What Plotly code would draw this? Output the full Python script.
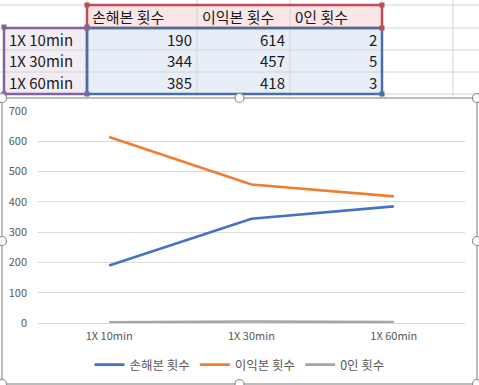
import plotly.graph_objects as go

# ---- data ----
categories = ["1X 10min", "1X 30min", "1X 60min"]
series_names = ["손해본 횟수", "이익본 횟수", "0인 횟수"]
loss_counts = [190, 344, 385]
profit_counts = [614, 457, 418]
zero_counts = [2, 5, 3]
y_ticks = [0, 100, 200, 300, 400, 500, 600, 700]

W, H = 479, 385
FONT = "Noto Sans CJK KR, Noto Sans, sans-serif"


def px(x):
    return x / W


def py(y):
    return 1 - y / H


fig = go.Figure()

# ---- line chart ----
colors = ["#4472c4", "#ed7d31", "#a5a5a5"]
for name, vals, col in zip(series_names, [loss_counts, profit_counts, zero_counts], colors):
    fig.add_trace(go.Scatter(
        x=categories, y=vals, name=name, mode="lines",
        line=dict(color=col, width=2.6), hoverinfo="skip",
    ))

shapes = []
annotations = []

# ---- spreadsheet cells ----
col_edges = [4, 87, 197, 290, 382]
row_edges = [5, 28, 50, 72, 94]
header_fill = "#fbe6e7"
data_fill = "#e8eef8"
label_fill = "#f2ecf4"


def rect(x0, y0, x1, y1, fill, line_color=None, width=0, layer="below"):
    shapes.append(dict(type="rect", xref="paper", yref="paper", x0=px(x0), x1=px(x1), y0=py(y1), y1=py(y0),
                       line=dict(color=line_color or fill, width=width), fillcolor=fill, layer=layer))


# fills
rect(col_edges[1], row_edges[0], col_edges[4], row_edges[1], header_fill)
rect(col_edges[0], row_edges[1], col_edges[1], row_edges[4], label_fill)
rect(col_edges[1], row_edges[1], col_edges[4], row_edges[4], data_fill)

# excel gridlines
for yy in row_edges:
    shapes.append(dict(type="line", xref="paper", yref="paper", x0=0, x1=1, y0=py(yy), y1=py(yy),
                       line=dict(color="#d4d4d4", width=1), layer="below"))
for xx in [87, 197, 290, 382, 453]:
    shapes.append(dict(type="line", xref="paper", yref="paper", x0=px(xx), x1=px(xx), y0=py(0), y1=py(97),
                       line=dict(color="#d4d4d4", width=1), layer="below"))

# cell text
for j, name in enumerate(series_names):
    annotations.append(dict(text=name, xref="paper", yref="paper", x=px(col_edges[j + 1] + 3),
                            y=py((row_edges[0] + row_edges[1]) / 2), xanchor="left", yanchor="middle",
                            showarrow=False, font=dict(family=FONT, size=15, color="#1a1a1a")))
for i, cat in enumerate(categories):
    yc = py((row_edges[i + 1] + row_edges[i + 2]) / 2)
    annotations.append(dict(text=cat, xref="paper", yref="paper", x=px(col_edges[0] + 3), y=yc,
                            xanchor="left", yanchor="middle", showarrow=False,
                            font=dict(family=FONT, size=15, color="#1a1a1a")))
    for j, vals in enumerate([loss_counts, profit_counts, zero_counts]):
        annotations.append(dict(text=str(vals[i]), xref="paper", yref="paper", x=px(col_edges[j + 2] - 3),
                                y=yc, xanchor="right", yanchor="middle", showarrow=False,
                                font=dict(family=FONT, size=15, color="#1a1a1a")))


# selection boxes
def box(x0, y0, x1, y1, color):
    shapes.append(dict(type="rect", xref="paper", yref="paper", x0=px(x0), x1=px(x1), y0=py(y1), y1=py(y0),
                       line=dict(color=color, width=2.5), fillcolor="rgba(0,0,0,0)", layer="above"))


def handle(x, y, color):
    shapes.append(dict(type="rect", xref="paper", yref="paper", x0=px(x - 2.5), x1=px(x + 2.5),
                       y0=py(y + 2.5), y1=py(y - 2.5), line=dict(color=color, width=0),
                       fillcolor=color, layer="above"))


box(87, 5, 382, 28, "#bf4b5a")
box(4, 28, 87, 94, "#8064a2")
box(87, 28, 382, 94, "#4a6fa5")
for hx, hy in [(87, 5), (382, 5), (87, 28), (382, 28)]:
    handle(hx, hy, "#bf4b5a")
for hx, hy in [(4, 27), (87, 27), (4, 94), (87, 94)]:
    handle(hx, hy, "#8064a2")
handle(382, 94, "#4a6fa5")

# chart area
shapes.append(dict(type="rect", xref="paper", yref="paper", x0=px(2), x1=px(477), y0=py(384), y1=py(98),
                   line=dict(color="#a6a6a6", width=1.5), fillcolor="white", layer="below"))
for hx in [2, 239.5, 477]:
    for hy in [98, 241, 384]:
        if hx == 239.5 and hy == 241:
            continue
        shapes.append(dict(type="circle", xref="paper", yref="paper", x0=px(hx - 4.5), x1=px(hx + 4.5),
                           y0=py(hy + 4.5), y1=py(hy - 4.5), line=dict(color="#8c8c8c", width=1.2),
                           fillcolor="white", layer="above"))

fig.update_layout(
    width=W, height=H, autosize=False,
    margin=dict(l=0, r=0, t=0, b=0, pad=0, autoexpand=False),
    paper_bgcolor="white", plot_bgcolor="rgba(0,0,0,0)",
    font=dict(family=FONT, color="#595959"),
    shapes=shapes, annotations=annotations,
    showlegend=True, hovermode=False,
    legend=dict(orientation="h", x=0.5, xanchor="center", y=py(365), yanchor="middle",
                font=dict(size=12.5, color="#595959"), bgcolor="rgba(0,0,0,0)"),
    xaxis=dict(domain=[px(38), px(465)], range=[-0.5, 2.5], type="category",
               showgrid=False, showline=False, zeroline=False, ticks="", automargin=False,
               tickfont=dict(size=11, color="#595959"), ticklabelstandoff=5),
    yaxis=dict(domain=[py(323), py(111)], range=[0, 700], tickvals=y_ticks, automargin=False,
               showgrid=True, gridcolor="#d9d9d9", gridwidth=1,
               zeroline=True, zerolinecolor="#d9d9d9", zerolinewidth=1,
               showline=False, ticks="",
               tickfont=dict(size=11, color="#595959"), ticklabelstandoff=10),
)

fig.write_html("out.html", config={"responsive": False, "displayModeBar": False},
               post_script="document.body.style.margin='0';document.body.style.overflow='hidden';")
